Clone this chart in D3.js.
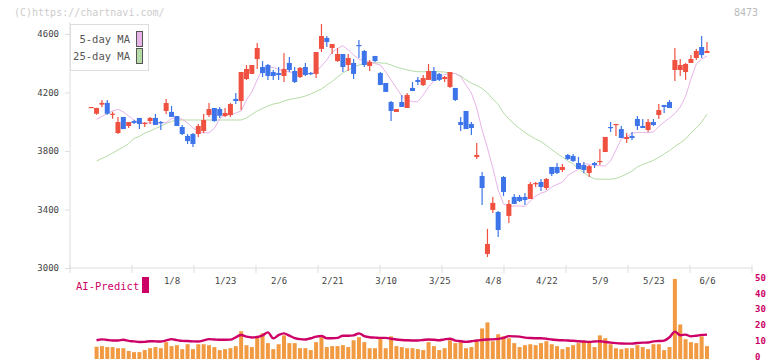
<!DOCTYPE html>
<html><head><meta charset="utf-8">
<script src="https://cdn.jsdelivr.net/npm/d3@7"></script>
<style>body{margin:0;background:#fff}svg{display:block}</style>
</head><body><svg id="c" width="772" height="361"></svg>
<script>
const dates=["12/12","12/13","12/16","12/17","12/18","12/19","12/20","12/23","12/24","12/25","12/26","12/27","12/30","1/6","1/7",
"1/8","1/9","1/10","1/14","1/15","1/16","1/17","1/20","1/21","1/22","1/23","1/24","1/27","1/28","1/29","1/30","1/31",
"2/3","2/4","2/5","2/6","2/7","2/10","2/12","2/13","2/14","2/17","2/18","2/19","2/20","2/21","2/25","2/26","2/27","2/28",
"3/3","3/4","3/5","3/6","3/7","3/10","3/11","3/12","3/13","3/14","3/17","3/18","3/19","3/21","3/24","3/25","3/26","3/27","3/28","3/31",
"4/1","4/2","4/3","4/4","4/7","4/8","4/9","4/10","4/11","4/14","4/15","4/16","4/17","4/18","4/21","4/22","4/23","4/24","4/25","4/28","4/30",
"5/1","5/2","5/7","5/8","5/9","5/12","5/13","5/14","5/15","5/16","5/19","5/20","5/21","5/22","5/23","5/26","5/27","5/28","5/29","5/30",
"6/2","6/3","6/4","6/5","6/6"];
const open=[4096,4055,4117,4129,4050,3923,4033,3971,4005,4026,3985,4005,4026,3998,4074,4067,4039,3964,3903,3916,
3916,3937,4046,4094,4087,4039,4046,4156,4142,4292,4327,4429,4374,4388,4340,4333,4313,4402,4347,4306,
4374,4333,4327,4498,4573,4504,4415,4463,4388,4402,4525,4484,4381,4450,4333,4265,4135,4067,4135,4094,
4231,4286,4251,4286,4347,4327,4292,4238,4231,3998,4074,3985,3759,3629,3096,3397,3383,3622,3356,3486,
3486,3486,3472,3574,3588,3547,3691,3691,3670,3773,3766,3718,3704,3650,3718,3725,3793,3964,3978,3950,
3882,3903,4019,3971,3944,3998,4046,4115,4135,4354,4354,4340,4402,4436,4511,4470];
const high=[4101,4096,4149,4149,4069,4033,4033,3998,4012,4026,3998,4033,4053,4005,4156,4108,4039,3978,3916,3923,
3985,4053,4128,4094,4101,4094,4128,4197,4340,4388,4388,4539,4415,4395,4354,4374,4470,4443,4374,4374,
4402,4340,4477,4668,4586,4532,4504,4463,4463,4429,4559,4491,4422,4450,4340,4265,4142,4087,4183,4197,
4272,4306,4320,4395,4374,4333,4313,4340,4231,4033,4074,3998,3855,3656,3267,3486,3390,3629,3465,3506,
3499,3513,3588,3588,3609,3615,3691,3718,3711,3779,3779,3759,3725,3704,3725,3814,3896,3998,3985,3971,
3923,3930,4039,4019,4019,4019,4121,4115,4149,4504,4429,4402,4456,4498,4586,4545];
const low=[4096,4048,4099,4048,4021,3916,3950,3957,3985,3950,3964,3985,3978,3944,4053,4033,3971,3909,3848,3827,
3896,3923,4033,4000,4026,4033,4033,4121,4080,4286,4327,4361,4306,4286,4286,4286,4272,4340,4265,4299,
4313,4320,4299,4477,4511,4463,4409,4340,4347,4292,4436,4374,4347,4409,4251,4204,4005,4067,4101,4094,
4210,4251,4245,4286,4279,4279,4272,4231,4142,3937,3950,3909,3745,3431,3075,3376,3212,3492,3308,3438,
3451,3431,3472,3554,3527,3533,3629,3643,3656,3739,3725,3677,3650,3622,3684,3704,3793,3930,3903,3889,
3855,3875,3944,3957,3930,3971,4019,4060,4094,4279,4313,4286,4402,4422,4436,4470];
const close=[4101,4094,4129,4055,4055,3998,3950,3998,3992,3985,3992,4026,3978,3992,4128,4033,3971,3916,3868,3848,
3971,4012,4087,4005,4041,4060,4121,4142,4340,4361,4388,4504,4333,4313,4313,4320,4361,4354,4272,4368,
4320,4327,4477,4586,4545,4532,4463,4374,4436,4327,4518,4388,4409,4415,4251,4204,4074,4087,4101,4183,
4210,4272,4299,4347,4279,4286,4306,4340,4149,3978,3950,3957,3773,3547,3164,3445,3260,3520,3438,3438,
3458,3465,3574,3581,3554,3609,3643,3650,3691,3745,3732,3677,3670,3697,3704,3732,3896,3957,3985,3889,
3896,3889,3971,3957,3998,3978,4080,4101,4094,4422,4388,4395,4429,4484,4456,4484];
const ma5=[null,4017,4036,4056,4074,4085,4067,4039,4012,3992,3992,3992,3992,3992,3994,4022,4026,4017,3992,3957,
3937,3925,3925,3955,4019,4050,4046,4060,4074,4149,4204,4286,4361,4374,4371,4357,4347,4340,4335,4333,
4331,4331,4340,4381,4422,4477,4501,4520,4491,4457,4427,4419,4411,4398,4388,4340,4286,4231,4176,4149,
4137,4137,4183,4238,4279,4309,4323,4330,4330,4308,4251,4197,4094,3944,3821,3684,3533,3438,3421,3424,
3424,3421,3458,3492,3513,3523,3554,3571,3588,3633,3656,3674,3715,3708,3703,3699,3697,3732,3807,3882,
3896,3923,3927,3927,3925,3931,3968,3998,4026,4056,4101,4173,4292,4395,4429,4450];
const ma25=[null,3732,3749,3766,3786,3807,3827,3851,3886,3900,3923,3937,3954,3968,3988,4002,4012,4012,4012,4012,
4012,4012,4012,4012,4012,4012,4012,4012,4012,4026,4050,4074,4091,4108,4121,4128,4142,4152,4159,4166,
4176,4190,4207,4224,4251,4275,4306,4333,4354,4374,4388,4395,4402,4404,4402,4400,4388,4374,4364,4354,
4347,4342,4342,4342,4342,4342,4340,4333,4330,4313,4286,4263,4248,4227,4197,4156,4118,4060,4019,3985,
3954,3927,3903,3882,3864,3838,3810,3783,3759,3732,3711,3680,3650,3627,3609,3607,3607,3607,3612,3626,
3643,3663,3691,3708,3721,3736,3756,3780,3803,3831,3855,3882,3923,3957,3998,4051];
const volume=[null,6.8,7.2,6.6,6.6,5.9,5.9,4.1,3.4,3.4,4.7,5.9,6.6,5.9,9.7,7.2,7.8,5.3,8.4,5.3,8.4,
8.4,7.8,6.6,4.7,5.3,5.9,7.2,16.6,7.8,6.6,13.4,15.3,9.1,5.3,8.4,14,9.1,9.1,5.9,5.9,
4.7,9.7,12.8,6.6,7.2,7.2,7.8,6.6,10.9,12.8,9.7,5.9,5.9,12.2,5.9,13.4,7.2,6.6,5.9,5.9,
5.3,4.7,9.7,7.2,4.7,5.9,10.9,9.1,9.7,5.9,6.6,10.9,18.4,22.2,10.3,14.7,13.4,12.2,9.1,6.6,
7.8,8.4,7.8,9.1,10.3,8.4,7.2,5.3,6.6,7.8,9.1,10.3,9.7,6.6,14,12.2,8.4,5.9,5.3,5.9,
5.9,7.8,6.6,5.3,8.4,8.4,4.7,6.6,49.7,20.9,11.6,9.7,9.1,13.4,7.2];
const aiPredict=[null,10.9,11.5,11.1,10.8,10.8,11.2,10.5,10.2,9.8,9.9,10.3,10.2,10.1,10.8,11.6,11,10.5,10.4,10.2,10.1,
10.8,11.6,11.4,11.2,11.2,11.3,12.8,14.2,13.2,12.7,13,14,15.9,12.1,14.2,15.3,13.8,12.3,11.6,11.4,
12.2,13.2,13.6,12.2,12.2,12.4,13.8,13.8,14,15.3,13.5,12.8,12.6,12.4,12.4,11.9,11.4,11.1,10.9,10.8,
10.8,11.1,11.4,11.2,10.9,11.5,11.9,10.7,10.3,9.9,10.3,10.8,11.1,11.4,11.5,11.8,12.4,13.5,13.4,13.2,
12.6,12.3,12.2,12.2,11.9,11.4,11.1,10.9,10.8,10.6,10.3,10.1,9.9,10.1,10.3,9.8,9.4,9.1,8.9,8.8,
8.8,9.2,9.4,9.5,10.2,10.4,10.7,12.8,16.4,14.1,14.5,13.4,13.8,14.3,14.5];
const priceTicks=[3000,3400,3800,4200,4600];
const dateLabels=["1/8","1/23","2/6","2/21","3/10","3/25","4/8","4/22","5/9","5/23","6/6"];
const volTicks=[0,10,20,30,40,50];
const legendItems=["5-day MA","25-day MA"];

const C={up:"#f05040",down:"#3d74ea",ma5:"#e8b4e8",ma25:"#b6dba6",vol:"#f29a42",ai:"#cc0066",axis:"#dddddd",txt:"#444"};
const FONT="'DejaVu Sans Mono', 'Liberation Mono', monospace";
const svg=d3.select("#c");
const x=d3.scalePoint().domain(dates).range([91.2,707]);
const y=d3.scaleLinear().domain([3000,4600]).range([268,34]);
const yv=d3.scaleLinear().domain([0,50]).range([357.5,278.5]);
const grid=d3.scaleLinear().domain([0,11]).range([70,752]);
const idx=d3.range(dates.length);

// watermark
svg.append("text").attr("x",14).attr("y",16).attr("font-family",FONT).attr("font-size",10).attr("fill","#cccccc").text("(C)https://chartnavi.com/");
svg.append("text").attr("x",758).attr("y",16).attr("text-anchor","end").attr("font-family",FONT).attr("font-size",10).attr("fill","#bbbbbb").text("8473");

// axes
svg.append("line").attr("x1",70).attr("x2",70).attr("y1",22).attr("y2",268).attr("stroke",C.axis);
svg.append("line").attr("x1",70).attr("x2",752).attr("y1",268).attr("y2",268).attr("stroke",C.axis);
svg.append("g").selectAll("line").data(d3.range(12)).join("line")
  .attr("x1",d=>grid(d)).attr("x2",d=>grid(d)).attr("y1",265).attr("y2",273).attr("stroke",C.axis);
const ya=svg.append("g").attr("transform","translate(70,0)").call(d3.axisLeft(y).tickValues(priceTicks).tickSize(5).tickPadding(6).tickFormat(d3.format("d")));
ya.select(".domain").remove();
ya.selectAll("line").attr("stroke",C.axis);
ya.selectAll("text").attr("font-family",FONT).attr("font-size",9).attr("fill",C.txt);
const xa=svg.append("g").attr("transform","translate(0,278)").call(d3.axisBottom(x).tickValues(dateLabels).tickSize(0).tickPadding(0));
xa.select(".domain").remove();
xa.selectAll("text").attr("font-family",FONT).attr("font-size",9).attr("fill",C.txt).attr("dy","0.71em");

// MA lines
const mkLine=(arr)=>d3.line().defined(i=>arr[i]!=null).x(i=>x(dates[i])).y(i=>y(arr[i]));
svg.append("path").attr("d",mkLine(ma25)(idx)).attr("fill","none").attr("stroke",C.ma25).attr("stroke-width",1);
svg.append("path").attr("d",mkLine(ma5)(idx)).attr("fill","none").attr("stroke",C.ma5).attr("stroke-width",1);

// candles
const cg=svg.append("g");
const col=i=>close[i]>=open[i]?C.up:C.down;
cg.selectAll("line.w").data(idx).join("line").attr("class","w")
  .attr("x1",i=>x(dates[i])).attr("x2",i=>x(dates[i]))
  .attr("y1",i=>y(high[i])).attr("y2",i=>y(low[i]))
  .attr("stroke",col).attr("stroke-width",1.2);
cg.selectAll("rect").data(idx).join("rect")
  .attr("x",i=>x(dates[i])-2.5).attr("width",5)
  .attr("y",i=>y(Math.max(open[i],close[i])))
  .attr("height",i=>Math.max(1.2,Math.abs(y(open[i])-y(close[i]))))
  .attr("fill",col);

// legend
const lg=svg.append("g");
lg.append("rect").attr("x",70.5).attr("y",24.5).attr("width",78).attr("height",46).attr("fill","#fff").attr("stroke","#dddddd");
const swc=[C.ma5,C.ma25];
legendItems.forEach((t,k)=>{
  lg.append("text").attr("x",130).attr("y",39+k*17).attr("dy","0.35em").attr("text-anchor","end")
    .attr("font-family",FONT).attr("font-size",10.5).attr("fill","#555").text(t);
  lg.append("rect").attr("x",136.5).attr("y",31.5+k*17).attr("width",6).attr("height",15)
    .attr("fill",swc[k]).attr("stroke","#555");
});

// volume
svg.append("g").selectAll("rect").data(idx.filter(i=>volume[i]!=null)).join("rect")
  .attr("x",i=>x(dates[i])-2).attr("width",4)
  .attr("y",i=>yv(volume[i])).attr("height",i=>yv(0)-yv(volume[i])+1.5)
  .attr("fill",C.vol);
svg.append("path").attr("d",d3.line().defined(i=>aiPredict[i]!=null).x(i=>x(dates[i])).y(i=>yv(aiPredict[i])).curve(d3.curveMonotoneX)(idx))
  .attr("fill","none").attr("stroke",C.ai).attr("stroke-width",2.4);

const va=svg.append("g").attr("transform","translate(752,0)").call(d3.axisRight(yv).tickValues(volTicks).tickSize(0).tickPadding(3));
va.select(".domain").remove();
va.selectAll("text").attr("font-family",FONT).attr("font-size",9).attr("font-weight","bold").attr("fill",C.ai).attr("dy","0.2em");

// AI legend
svg.append("text").attr("x",76).attr("y",286).attr("dy","0.35em").attr("font-family",FONT).attr("font-size",10.5).attr("fill",C.ai).text("AI-Predict");
svg.append("rect").attr("x",142).attr("y",277).attr("width",7).attr("height",16).attr("fill",C.ai);
</script></body></html>
